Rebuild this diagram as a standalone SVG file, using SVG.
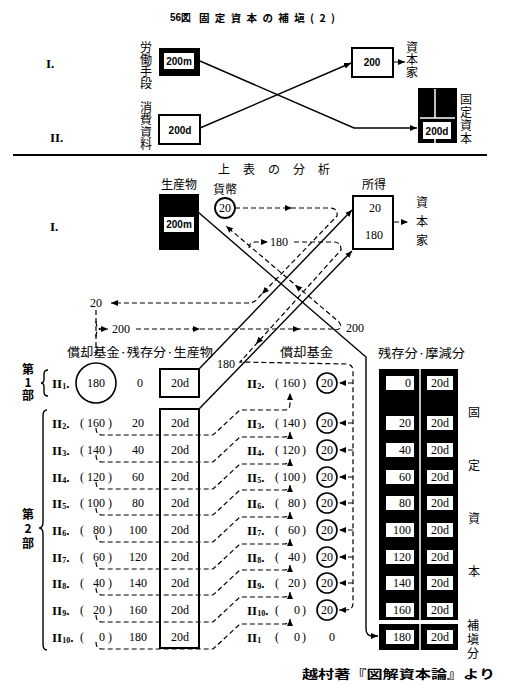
<svg xmlns="http://www.w3.org/2000/svg" xmlns:xlink="http://www.w3.org/1999/xlink" width="508" height="696" viewBox="0 0 508 696">
<style>
.s{stroke:#000;stroke-width:1.4;fill:none}
.d{stroke:#000;stroke-width:1.2;fill:none;stroke-dasharray:5 3}
.r{font-family:"Liberation Serif",serif;font-size:12px;fill:#000;dominant-baseline:central}
.rb{font-family:"Liberation Serif",serif;font-size:13px;font-weight:bold;fill:#000;dominant-baseline:central}
.b{font-family:"Liberation Sans",sans-serif;font-size:10px;font-weight:bold;fill:#000;dominant-baseline:central}
.j{font-family:"Noto Sans CJK JP",sans-serif;font-size:12px;fill:#000;dominant-baseline:central}
.vt{font-family:"Noto Sans CJK JP",sans-serif;font-size:12px;fill:#000;writing-mode:vertical-rl;text-orientation:upright}
.jb{font-family:"Noto Sans CJK JP",sans-serif;font-size:10.5px;font-weight:bold;fill:#000;dominant-baseline:central}
.m{text-anchor:middle}
.e{text-anchor:end}
.box{fill:#fff;stroke:#000;stroke-width:2}
.cell{fill:#fff}
.w{stroke:#fff;stroke-width:1.5}
</style>
<defs>
<marker id="a" markerUnits="userSpaceOnUse" markerWidth="8" markerHeight="6" refX="7" refY="3" orient="auto"><path d="M0,0 L7,3 L0,6 z" fill="#000"/></marker>
<path id="ah" d="M0,0 L-7,-3 L-7,3 z" fill="#000"/>
</defs>

<!-- Title -->
<g id="title">
<text x="170" y="17" class="b">56図</text>
<text x="199" y="17" class="jb" font-size="10" textLength="136" lengthAdjust="spacing">固定資本の補塡(2)</text>
</g>

<!-- Top section -->
<g id="top-labels">
<text x="46" y="63" class="rb">I.</text>
<text x="50" y="137" class="rb">II.</text>
<text x="146" y="41" class="vt">労働手段</text>
<text x="146" y="101" class="vt" letter-spacing="0.5">消費資料</text>
<text x="412" y="41" class="vt" letter-spacing="0.5">資本家</text>
<text x="466" y="93" class="vt" letter-spacing="1">固定資本</text>
</g>
<g id="top-200m">
<rect x="159" y="48" width="41" height="28" fill="#000"/>
<rect x="164" y="53" width="30" height="16" class="cell"/>
<text x="179" y="61" class="b m">200m</text>
</g>
<g id="top-200d">
<rect x="159" y="115" width="41" height="29" class="box"/>
<text x="180" y="130" class="b m" font-size="11">200d</text>
</g>
<g id="top-200">
<rect x="352" y="48" width="41" height="29" class="box"/>
<text x="372" y="62" class="b m" font-size="11">200</text>
</g>
<g id="top-fixed">
<rect x="418" y="88" width="39" height="55" fill="#000"/>
<line x1="435" y1="89" x2="435" y2="118" class="w"/>
<line x1="420" y1="118" x2="455" y2="118" class="w"/>
<line x1="435" y1="139" x2="435" y2="143" class="w"/>
<rect x="423" y="122" width="28" height="17" class="cell"/>
<text x="437" y="131" class="b m" font-size="11">200d</text>
</g>
<line x1="13" y1="155" x2="487" y2="155" stroke="#000" stroke-width="2"/>

<!-- Middle section -->
<g id="mid-labels">
<text x="218" y="168" class="j" font-size="13" textLength="112" lengthAdjust="spacing">上表の分析</text>
<text x="179" y="183" class="j m">生産物</text>
<text x="225" y="188" class="j m">貨幣</text>
<text x="374" y="183" class="j m">所得</text>
<text x="422" y="196" class="vt" letter-spacing="7">資本家</text>
<text x="50" y="226" class="rb">I.</text>
</g>
<g id="mid-200m">
<rect x="159" y="194" width="40" height="56" fill="#000"/>
<rect x="164" y="217" width="30" height="15" class="cell"/>
<text x="179" y="224.5" class="b m">200m</text>
</g>
<g id="money20">
<circle cx="225" cy="208" r="10" fill="#fff" stroke="#000" stroke-width="1.8"/>
<text x="225" y="208" class="r m">20</text>
</g>
<g id="income">
<rect x="353" y="196" width="40" height="53" class="box"/>
<text x="375" y="208" class="r m">20</text>
<text x="374" y="235" class="r m">180</text>
</g>

<!-- Lower headers -->
<g id="low-headers">
<text x="67" y="351" class="j" font-size="13" textLength="146" lengthAdjust="spacingAndGlyphs">償却基金·残存分·生産物</text>
<text x="280" y="351" class="j" font-size="13" textLength="53" lengthAdjust="spacingAndGlyphs">償却基金</text>
<text x="378" y="352" class="j" font-size="13" textLength="87" lengthAdjust="spacingAndGlyphs">残存分·摩減分</text>
<text x="28" y="363" class="vt" font-size="11" font-weight="bold" letter-spacing="1">第1部</text>
<text x="28" y="508" class="vt" font-size="11" font-weight="bold" letter-spacing="2.5">第2部</text>
<path d="M48,370 Q44,370 44,374 L44,379 Q44,383 41,383 Q44,383 44,387 L44,392 Q44,396 48,396" class="s" stroke-width="1.2"/>
<path d="M47,410 Q43,410 43,416 L43,522 Q43,528 39,528 Q43,528 43,534 L43,644 Q43,650 47,650" class="s" stroke-width="1.2"/>
</g>

<!-- Left table -->
<g id="row-II1">
<text x="52" y="383" class="rb">II<tspan font-size="8" dy="3">1</tspan><tspan dy="-3">.</tspan></text>
<circle cx="96" cy="383" r="20" fill="none" stroke="#000" stroke-width="1.6"/>
<text x="96" y="383" class="r m">180</text>
<text x="140" y="383" class="r m">0</text>
<rect x="160" y="369" width="39" height="28" class="box"/>
<text x="180" y="383" class="r m">20d</text>
</g>
<g id="rows-II2-II10">
<rect x="160" y="409" width="39" height="239" class="box"/>
<text x="52" y="423" class="rb">II<tspan font-size="8" dy="3">2</tspan><tspan dy="-3">.</tspan></text>
<text y="423" class="r"><tspan x="80">(</tspan><tspan x="87">160</tspan><tspan x="108">)</tspan></text><text x="138" y="423" class="r m">20</text><text x="180" y="423" class="r m">20d</text>
<text x="52" y="450" class="rb">II<tspan font-size="8" dy="3">3</tspan><tspan dy="-3">.</tspan></text>
<text y="450" class="r"><tspan x="80">(</tspan><tspan x="87">140</tspan><tspan x="108">)</tspan></text><text x="138" y="450" class="r m">40</text><text x="180" y="450" class="r m">20d</text>
<text x="52" y="477" class="rb">II<tspan font-size="8" dy="3">4</tspan><tspan dy="-3">.</tspan></text>
<text y="477" class="r"><tspan x="80">(</tspan><tspan x="87">120</tspan><tspan x="108">)</tspan></text><text x="138" y="477" class="r m">60</text><text x="180" y="477" class="r m">20d</text>
<text x="52" y="503" class="rb">II<tspan font-size="8" dy="3">5</tspan><tspan dy="-3">.</tspan></text>
<text y="503" class="r"><tspan x="80">(</tspan><tspan x="87">100</tspan><tspan x="108">)</tspan></text><text x="138" y="503" class="r m">80</text><text x="180" y="503" class="r m">20d</text>
<text x="52" y="530" class="rb">II<tspan font-size="8" dy="3">6</tspan><tspan dy="-3">.</tspan></text>
<text y="530" class="r"><tspan x="80">(</tspan><tspan x="93">80</tspan><tspan x="108">)</tspan></text><text x="138" y="530" class="r m">100</text><text x="180" y="530" class="r m">20d</text>
<text x="52" y="557" class="rb">II<tspan font-size="8" dy="3">7</tspan><tspan dy="-3">.</tspan></text>
<text y="557" class="r"><tspan x="80">(</tspan><tspan x="93">60</tspan><tspan x="108">)</tspan></text><text x="138" y="557" class="r m">120</text><text x="180" y="557" class="r m">20d</text>
<text x="52" y="583" class="rb">II<tspan font-size="8" dy="3">8</tspan><tspan dy="-3">.</tspan></text>
<text y="583" class="r"><tspan x="80">(</tspan><tspan x="93">40</tspan><tspan x="108">)</tspan></text><text x="138" y="583" class="r m">140</text><text x="180" y="583" class="r m">20d</text>
<text x="52" y="610" class="rb">II<tspan font-size="8" dy="3">9</tspan><tspan dy="-3">.</tspan></text>
<text y="610" class="r"><tspan x="80">(</tspan><tspan x="93">20</tspan><tspan x="108">)</tspan></text><text x="138" y="610" class="r m">160</text><text x="180" y="610" class="r m">20d</text>
<text x="52" y="637" class="rb">II<tspan font-size="8" dy="3">10</tspan><tspan dy="-3">.</tspan></text>
<text y="637" class="r"><tspan x="80">(</tspan><tspan x="99">0</tspan><tspan x="108">)</tspan></text><text x="138" y="637" class="r m">180</text><text x="180" y="637" class="r m">20d</text>
</g>

<!-- Right fund column -->
<g id="fund-column">
<text x="247" y="383" class="rb">II<tspan font-size="8" dy="3">2</tspan><tspan dy="-3">.</tspan></text>
<text y="383" class="r"><tspan x="275">(</tspan><tspan x="282">160</tspan><tspan x="302">)</tspan></text>
<text x="247" y="423" class="rb">II<tspan font-size="8" dy="3">3</tspan><tspan dy="-3">.</tspan></text>
<text y="423" class="r"><tspan x="275">(</tspan><tspan x="282">140</tspan><tspan x="302">)</tspan></text>
<text x="247" y="450" class="rb">II<tspan font-size="8" dy="3">4</tspan><tspan dy="-3">.</tspan></text>
<text y="450" class="r"><tspan x="275">(</tspan><tspan x="282">120</tspan><tspan x="302">)</tspan></text>
<text x="247" y="477" class="rb">II<tspan font-size="8" dy="3">5</tspan><tspan dy="-3">.</tspan></text>
<text y="477" class="r"><tspan x="275">(</tspan><tspan x="282">100</tspan><tspan x="302">)</tspan></text>
<text x="247" y="503" class="rb">II<tspan font-size="8" dy="3">6</tspan><tspan dy="-3">.</tspan></text>
<text y="503" class="r"><tspan x="275">(</tspan><tspan x="288">80</tspan><tspan x="302">)</tspan></text>
<text x="247" y="530" class="rb">II<tspan font-size="8" dy="3">7</tspan><tspan dy="-3">.</tspan></text>
<text y="530" class="r"><tspan x="275">(</tspan><tspan x="288">60</tspan><tspan x="302">)</tspan></text>
<text x="247" y="557" class="rb">II<tspan font-size="8" dy="3">8</tspan><tspan dy="-3">.</tspan></text>
<text y="557" class="r"><tspan x="275">(</tspan><tspan x="288">40</tspan><tspan x="302">)</tspan></text>
<text x="247" y="583" class="rb">II<tspan font-size="8" dy="3">9</tspan><tspan dy="-3">.</tspan></text>
<text y="583" class="r"><tspan x="275">(</tspan><tspan x="288">20</tspan><tspan x="302">)</tspan></text>
<text x="247" y="610" class="rb">II<tspan font-size="8" dy="3">10</tspan><tspan dy="-3">.</tspan></text>
<text y="610" class="r"><tspan x="275">(</tspan><tspan x="294">0</tspan><tspan x="302">)</tspan></text>
<text x="247" y="637" class="rb">II<tspan font-size="8" dy="3">1</tspan></text>
<text y="637" class="r"><tspan x="275">(</tspan><tspan x="294">0</tspan><tspan x="302">)</tspan></text>
<text x="332" y="637" class="r m">0</text>
<g fill="#fff" stroke="#000" stroke-width="1.6">
<circle cx="327" cy="383" r="10"/><circle cx="327" cy="423" r="10"/><circle cx="327" cy="450" r="10"/>
<circle cx="327" cy="477" r="10"/><circle cx="327" cy="503" r="10"/><circle cx="327" cy="530" r="10"/>
<circle cx="327" cy="557" r="10"/><circle cx="327" cy="583" r="10"/><circle cx="327" cy="610" r="10"/>
</g>
<text x="327" y="383" class="r m">20</text><text x="327" y="423" class="r m">20</text><text x="327" y="450" class="r m">20</text>
<text x="327" y="477" class="r m">20</text><text x="327" y="503" class="r m">20</text><text x="327" y="530" class="r m">20</text>
<text x="327" y="557" class="r m">20</text><text x="327" y="583" class="r m">20</text><text x="327" y="610" class="r m">20</text>
</g>

<!-- Right panel: residual and wear -->
<g id="fixed-panel">
<rect x="379" y="369" width="79" height="251" fill="#000"/>
<rect x="379" y="624" width="79" height="26" fill="#000"/>
<line x1="420" y1="369" x2="420" y2="650" class="w"/>
<g class="cell">
<rect x="386" y="376" width="28" height="14"/><rect x="427" y="376" width="26" height="14"/>
<rect x="386" y="416" width="28" height="14"/><rect x="427" y="416" width="26" height="14"/>
<rect x="386" y="443" width="28" height="14"/><rect x="427" y="443" width="26" height="14"/>
<rect x="386" y="470" width="28" height="14"/><rect x="427" y="470" width="26" height="14"/>
<rect x="386" y="496" width="28" height="14"/><rect x="427" y="496" width="26" height="14"/>
<rect x="386" y="523" width="28" height="14"/><rect x="427" y="523" width="26" height="14"/>
<rect x="386" y="550" width="28" height="14"/><rect x="427" y="550" width="26" height="14"/>
<rect x="386" y="576" width="28" height="14"/><rect x="427" y="576" width="26" height="14"/>
<rect x="386" y="603" width="28" height="14"/><rect x="427" y="603" width="26" height="14"/>
<rect x="386" y="630" width="28" height="14"/><rect x="427" y="630" width="26" height="14"/>
</g>
<text x="411" y="383" class="r e">0</text><text x="440" y="383" class="r m">20d</text>
<text x="411" y="423" class="r e">20</text><text x="440" y="423" class="r m">20d</text>
<text x="411" y="450" class="r e">40</text><text x="440" y="450" class="r m">20d</text>
<text x="411" y="477" class="r e">60</text><text x="440" y="477" class="r m">20d</text>
<text x="411" y="503" class="r e">80</text><text x="440" y="503" class="r m">20d</text>
<text x="411" y="530" class="r e">100</text><text x="440" y="530" class="r m">20d</text>
<text x="411" y="557" class="r e">120</text><text x="440" y="557" class="r m">20d</text>
<text x="411" y="583" class="r e">140</text><text x="440" y="583" class="r m">20d</text>
<text x="411" y="610" class="r e">160</text><text x="440" y="610" class="r m">20d</text>
<text x="411" y="637" class="r e">180</text><text x="440" y="637" class="r m">20d</text>
<text x="474" y="406" class="vt" letter-spacing="41">固定資本</text>
<text x="473" y="619" class="vt" font-size="11" letter-spacing="2">補塡分</text>
</g>

<!-- Connectors -->
<g id="connectors">
<!-- top -->
<polyline points="200,61 354,128 417,128" class="s" marker-end="url(#a)"/>
<line x1="200" y1="128" x2="351" y2="63" class="s" marker-end="url(#a)"/>
<line x1="394" y1="62" x2="405" y2="62" class="d" stroke-dasharray="3 2" marker-end="url(#a)"/>
<!-- middle solid -->
<line x1="199" y1="369" x2="352" y2="210" class="s" marker-end="url(#a)"/>
<line x1="199" y1="409" x2="352" y2="251" class="s" marker-end="url(#a)"/>
<path d="M198,212 L366,357 L366,629 Q366,636 373,636 L378,636" class="s" marker-end="url(#a)"/>
<line x1="394" y1="222" x2="408" y2="222" class="d" stroke-dasharray="3 2" marker-end="url(#a)"/>
<!-- money 20 -> income -> 20 left -->
<path d="M235,208 L330,208 Q338,208 337,216 L259,297 Q255,303 248,303 L111,303" class="d" marker-end="url(#a)"/>
<use xlink:href="#ah" transform="translate(292,208)"/>
<use xlink:href="#ah" transform="translate(262,294) rotate(134)"/>
<text x="102" y="303" class="r e">20</text>
<!-- 200 left -> right -> up to money -->
<path d="M96,310 L96,355" class="d"/>
<path d="M96,321 Q96,329 102,329 L108,329" class="d" stroke-dasharray="none" marker-end="url(#a)"/>
<path d="M96,337 Q96,329 102,329" class="d" stroke-dasharray="none"/>
<text x="112" y="329" class="r">200</text>
<path d="M136,329 L335,329" class="d"/>
<use xlink:href="#ah" transform="translate(200,329)"/>
<use xlink:href="#ah" transform="translate(300,329)"/>
<path d="M335,330 Q344,329 339,322 L226,226" class="d" marker-end="url(#a)"/>
<use xlink:href="#ah" transform="translate(295,285) rotate(220)"/>
<text x="346" y="328" class="r">200</text>
<!-- 180 -->
<path d="M249,248 Q249,242 256,242 L268,242" class="d" stroke-dasharray="3 2" marker-end="url(#a)"/>
<text x="270" y="242" class="r">180</text>
<path d="M294,242 L334,242 Q341,242 341,250 L240,362 L346,364 Q353,364 353,371 L353,603 Q353,610 346,610 L339,610" class="d" marker-end="url(#a)"/>
<use xlink:href="#ah" transform="translate(256,344) rotate(132)"/>
<text x="235" y="364" class="r e">180</text>
<line x1="353" y1="383" x2="339" y2="383" class="d" stroke-dasharray="3 2" marker-end="url(#a)"/>
<line x1="353" y1="423" x2="339" y2="423" class="d" stroke-dasharray="3 2" marker-end="url(#a)"/>
<line x1="353" y1="450" x2="339" y2="450" class="d" stroke-dasharray="3 2" marker-end="url(#a)"/>
<line x1="353" y1="477" x2="339" y2="477" class="d" stroke-dasharray="3 2" marker-end="url(#a)"/>
<line x1="353" y1="503" x2="339" y2="503" class="d" stroke-dasharray="3 2" marker-end="url(#a)"/>
<line x1="353" y1="530" x2="339" y2="530" class="d" stroke-dasharray="3 2" marker-end="url(#a)"/>
<line x1="353" y1="557" x2="339" y2="557" class="d" stroke-dasharray="3 2" marker-end="url(#a)"/>
<line x1="353" y1="583" x2="339" y2="583" class="d" stroke-dasharray="3 2" marker-end="url(#a)"/>
<!-- row transfers -->
<path d="M96,428 Q96,435 102,435 L213,435 L240,410 L284,410 Q290,410 290,404 L290,393" class="d" marker-end="url(#a)"/>
<path d="M96,455 Q96,462 102,462 L213,462 L240,437 L284,437 Q290,437 290,432" class="d" marker-end="url(#a)"/>
<path d="M96,482 Q96,489 102,489 L213,489 L240,464 L284,464 Q290,464 290,459" class="d" marker-end="url(#a)"/>
<path d="M96,508 Q96,515 102,515 L213,515 L240,490 L284,490 Q290,490 290,485" class="d" marker-end="url(#a)"/>
<path d="M96,535 Q96,542 102,542 L213,542 L240,517 L284,517 Q290,517 290,512" class="d" marker-end="url(#a)"/>
<path d="M96,562 Q96,569 102,569 L213,569 L240,544 L284,544 Q290,544 290,539" class="d" marker-end="url(#a)"/>
<path d="M96,588 Q96,595 102,595 L213,595 L240,570 L284,570 Q290,570 290,565" class="d" marker-end="url(#a)"/>
<path d="M96,615 Q96,622 102,622 L213,622 L240,597 L284,597 Q290,597 290,592" class="d" marker-end="url(#a)"/>
<path d="M96,642 Q96,649 102,649 L213,649 L240,624 L284,624 Q290,624 290,619" class="d" marker-end="url(#a)"/>
</g>

<g id="credit">
<text x="302" y="673" class="j" font-size="15" font-weight="bold" textLength="193" lengthAdjust="spacingAndGlyphs">越村著『図解資本論』より</text>
</g>
</svg>
